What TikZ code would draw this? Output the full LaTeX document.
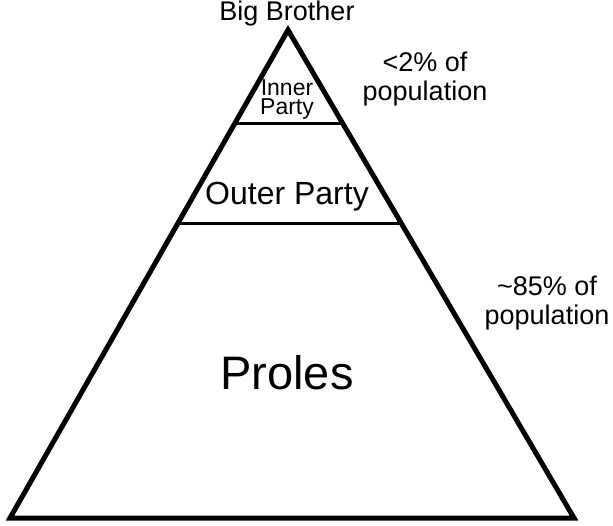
\documentclass[tikz,border=0pt]{standalone}
\usepackage{fontspec}
\setmainfont{Liberation Sans}
\usetikzlibrary{calc}

\tikzstyle{tier-label}=[inner sep=0pt,
                        align=center,
                        text centered,
                       ]
\tikzstyle{share-label}=[tier-label,
                         font=\fontsize{27}{29}\selectfont]
\tikzstyle{pyramid}=[draw=black, line width=5pt, line join=miter]
\tikzstyle{divider}=[draw=black, line width=3pt]

\begin{document}
\begin{tikzpicture}[x=1pt, y=-1pt]
\useasboundingbox (0,0) rectangle (613,525);

\coordinate (apex)  at (288, 30);
\coordinate (left)  at (10, 518);
\coordinate (right) at (574, 518);

\draw[pyramid] (apex) -- (left) -- (right) -- cycle;

\coordinate (inner_l) at ($(apex)!0.1906!(left)$);
\coordinate (inner_r) at ($(apex)!0.1906!(right)$);
\coordinate (outer_l) at ($(apex)!0.3955!(left)$);
\coordinate (outer_r) at ($(apex)!0.3955!(right)$);

\draw[divider] (inner_l) -- (inner_r);
\draw[divider] (outer_l) -- (outer_r);

\node at (287, 14)  (big_brother) [tier-label, font=\fontsize{27}{29}\selectfont] {Big Brother};
\node at (287, 99)  (inner_party) [tier-label, font=\fontsize{23}{19}\selectfont] {Inner\\Party};
\node at (287, 197) (outer_party) [tier-label, font=\fontsize{32}{35}\selectfont] {Outer Party};
\node at (287, 373) (proles)      [tier-label, font=\fontsize{47}{50}\selectfont] {Proles};

\node at (425, 79)  (inner_share) [share-label] {<2\% of\\population};
\node at (547, 303) (proles_share) [share-label] {\textasciitilde85\% of\\population};
\end{tikzpicture}
\end{document}
